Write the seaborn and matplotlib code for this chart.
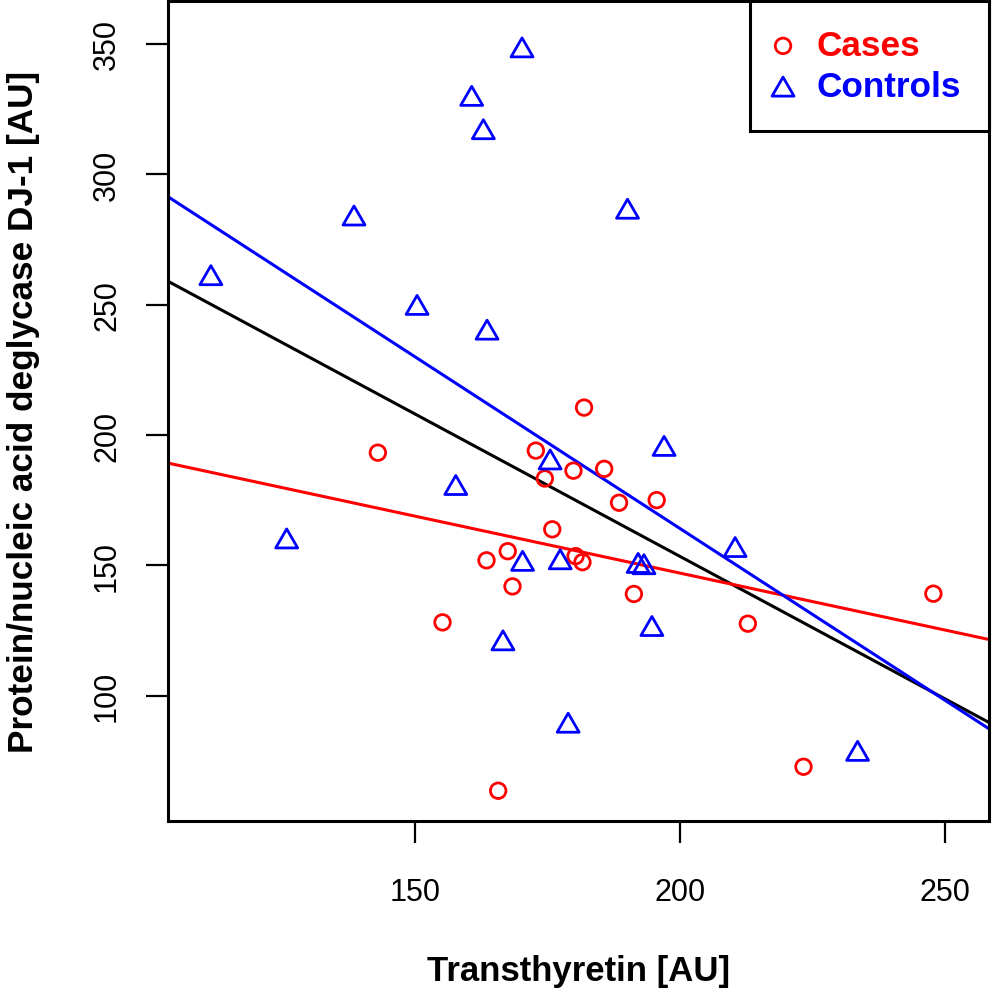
import pandas as pd
import seaborn as sns
import matplotlib.pyplot as plt
from matplotlib.path import Path

# Cases (red circles)
cases_x = [181.9, 143.0, 172.8, 179.9, 185.7, 174.5, 188.5, 195.6, 175.9, 167.5,
           163.5, 180.3, 181.6, 168.4, 191.3, 155.2, 212.8, 223.3, 247.8, 165.7]
cases_y = [210.5, 193.2, 194.0, 186.3, 187.0, 183.3, 174.0, 175.0, 163.8, 155.4,
           151.9, 153.5, 151.2, 141.9, 139.0, 128.1, 127.6, 72.7, 139.1, 63.5]

# Controls (blue triangles)
controls_x = [170.2, 160.7, 162.9, 138.5, 190.1, 111.5, 150.4, 163.6, 175.5, 197.0,
              157.7, 125.8, 170.3, 177.4, 192.1, 193.2, 194.7, 210.4, 233.5, 166.6, 178.9]
controls_y = [348.7, 330.1, 317.3, 284.2, 286.8, 261.3, 249.9, 240.4, 190.6, 195.8,
              180.8, 160.3, 151.7, 152.3, 150.9, 150.4, 126.7, 157.0, 78.8, 121.2, 89.6]

# regression lines: (intercept, slope)
fit_all = (372.0, -1.093)
fit_cases = (234.4, -0.437)
fit_controls = (427.7, -1.318)

cases = pd.DataFrame({'Transthyretin': cases_x, 'DJ1': cases_y})
controls = pd.DataFrame({'Transthyretin': controls_x, 'DJ1': controls_y})

sns.set_style('ticks')
plt.rcParams['font.family'] = ['Liberation Sans', 'DejaVu Sans']
plt.rcParams['text.color'] = 'black'
plt.rcParams['axes.labelcolor'] = 'black'
plt.rcParams['xtick.color'] = 'black'
plt.rcParams['ytick.color'] = 'black'

fig = plt.figure(figsize=(9.95, 9.95), dpi=100)
ax = fig.add_axes([0.1688, 0.1739, 0.8252, 0.8241])

tri = Path([(-1, -0.866), (1, -0.866), (0, 0.866), (-1, -0.866)], closed=True)

sns.scatterplot(data=cases, x='Transthyretin', y='DJ1', ax=ax, marker='o', s=125,
                color='#ff0000', facecolor='none', edgecolor='#ff0000', linewidth=2.0,
                label='Cases', zorder=3)
sns.scatterplot(data=controls, x='Transthyretin', y='DJ1', ax=ax, marker=tri, s=250,
                color='#0000ff', facecolor='none', edgecolor='#0000ff', linewidth=2.0,
                label='Controls', zorder=3)

ax.axline((0, fit_all[0]), slope=fit_all[1], color='black', lw=2.2, zorder=2)
ax.axline((0, fit_cases[0]), slope=fit_cases[1], color='#ff0000', lw=2.2, zorder=2)
ax.axline((0, fit_controls[0]), slope=fit_controls[1], color='#0000ff', lw=2.2, zorder=2)

ax.set_xlim(103.4, 258.3)
ax.set_ylim(51.9, 366.5)
ax.set_xticks([150, 200, 250])
ax.set_yticks([100, 150, 200, 250, 300, 350])

for sp in ax.spines.values():
    sp.set_linewidth(2.2)
    sp.set_color('black')
ax.tick_params(axis='both', length=16, width=1.6, color='black', labelcolor='black', labelsize=22)
ax.tick_params(axis='x', pad=24)
ax.tick_params(axis='y', pad=17)
for lab in ax.get_yticklabels():
    lab.set_rotation(90)
    lab.set_va('center')

ax.set_xlabel('Transthyretin [AU]', fontsize=25, fontweight='bold', color='black')
ax.set_ylabel('Protein/nucleic acid deglycase DJ-1 [AU]', fontsize=25.3, fontweight='bold',
              color='black')
ax.xaxis.set_label_coords(0.5, -0.162)
ax.yaxis.set_label_coords(-0.156, 0.5)

leg = ax.legend(loc='upper right', bbox_to_anchor=(1, 1), borderaxespad=0,
                fancybox=False, framealpha=1, edgecolor='black', scatterpoints=1,
                prop={'weight': 'bold', 'size': 25.3}, handlelength=0.3,
                handletextpad=0.8, borderpad=0.8, labelspacing=0.22)
leg.get_frame().set_linewidth(2.2)
for txt, col in zip(leg.get_texts(), ['#ff0000', '#0000ff']):
    txt.set_color(col)

plt.savefig('out.png', dpi=100)
